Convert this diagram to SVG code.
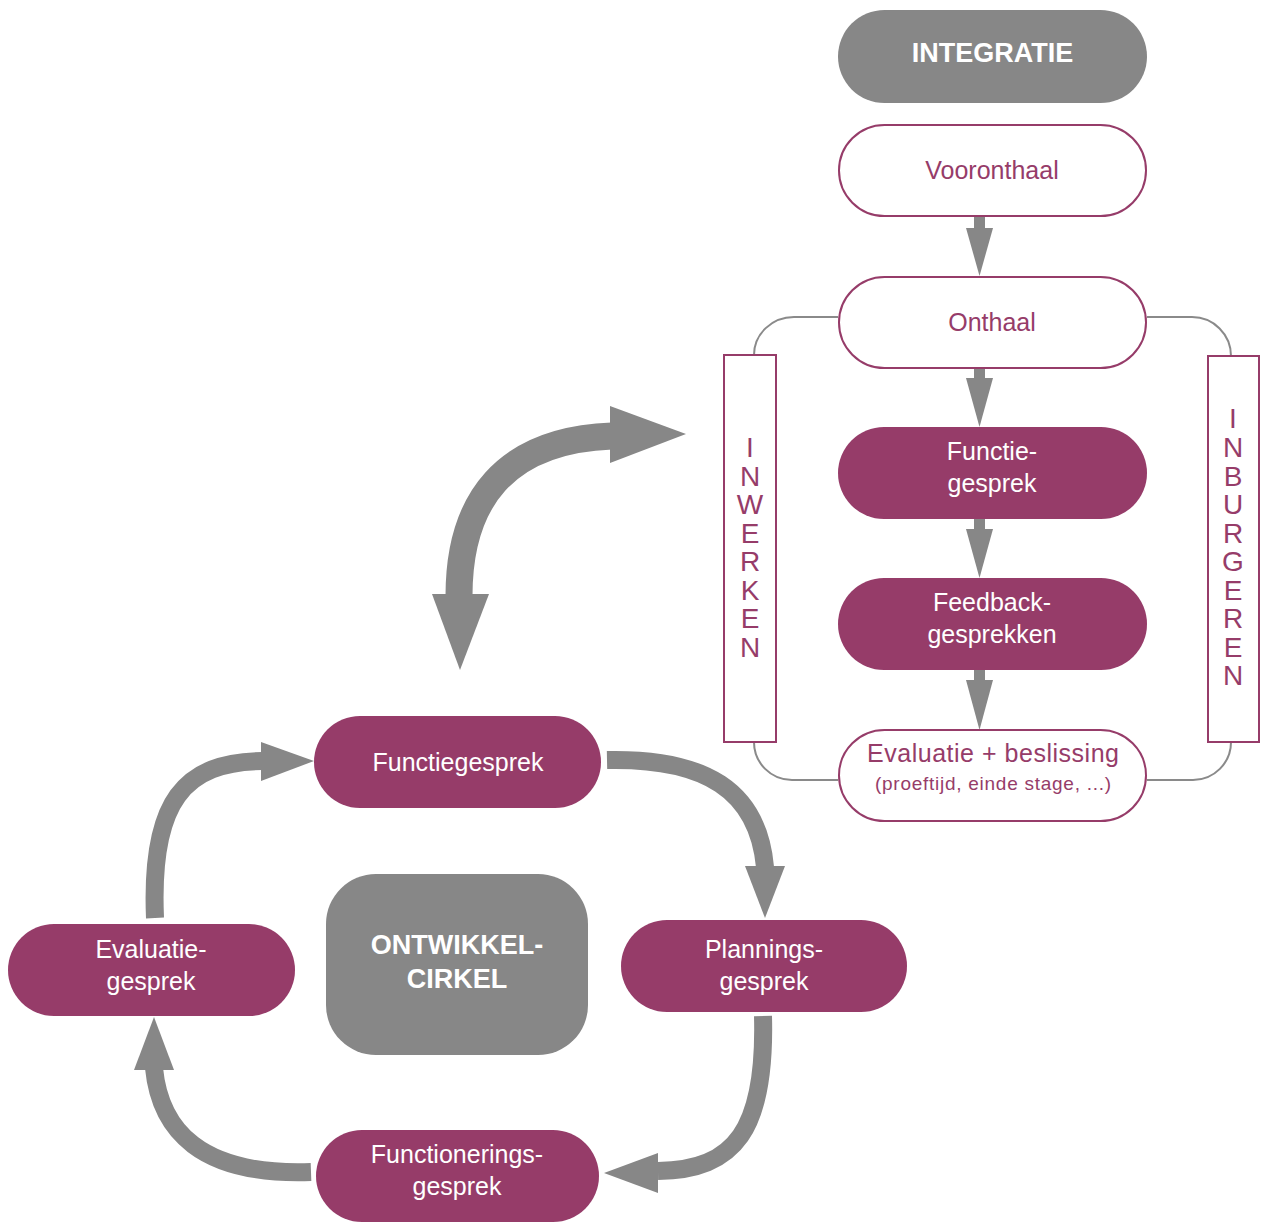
<svg xmlns="http://www.w3.org/2000/svg" width="1263" height="1229" viewBox="0 0 1263 1229">
<style>
.pf{fill:#963c69}
.po{fill:#ffffff;stroke:#963c69;stroke-width:2}
.gf{fill:#878787}
.tw{fill:#ffffff;font-family:"Liberation Sans",Arial,sans-serif;font-size:25px;text-anchor:middle}
.tp{fill:#963c69;font-family:"Liberation Sans",Arial,sans-serif;font-size:25px;text-anchor:middle}
.tb{fill:#ffffff;font-family:"Liberation Sans",Arial,sans-serif;font-size:27px;font-weight:bold;text-anchor:middle}
.tv{fill:#963c69;font-family:"Liberation Sans",Arial,sans-serif;font-size:28px;text-anchor:middle}
.br{fill:none;stroke:#8a8a8a;stroke-width:2}
.sh{fill:none;stroke:#878787}
.hd{fill:#878787}
</style>
<g id="connectors">
  <path class="br" d="M838,317 H794 A40,38 0 0 0 754,355"/>
  <path class="br" d="M754,742 A38,38 0 0 0 792,780 H838"/>
  <path class="br" d="M1147,317 H1192 A39,39 0 0 1 1231,356"/>
  <path class="br" d="M1231,742 A38,38 0 0 1 1193,780 H1147"/>
  <rect class="hd" x="974" y="215" width="11" height="15"/>
  <polygon class="hd" points="966,228 993,228 979.5,276"/>
  <rect class="hd" x="974" y="367" width="11" height="13"/>
  <polygon class="hd" points="966,378 993,378 979.5,427"/>
  <rect class="hd" x="974" y="518" width="11" height="13"/>
  <polygon class="hd" points="966,529 993,529 979.5,578"/>
  <rect class="hd" x="974" y="669" width="11" height="13"/>
  <polygon class="hd" points="966,680 993,680 979.5,730"/>
  <path class="sh" stroke-width="27" d="M459,596 C459,500 505,440 612,436"/>
  <polygon class="hd" points="432,594 489,594 460,670"/>
  <polygon class="hd" points="610,406 686,434 610,463"/>
  <path class="sh" stroke-width="18" d="M607,760 C705,758 758,790 765,867"/>
  <polygon class="hd" points="745,866 785,866 765,918"/>
  <path class="sh" stroke-width="18" d="M763,1016 C766,1130 735,1170 658,1171"/>
  <polygon class="hd" points="658,1153 658,1193 604,1173"/>
  <path class="sh" stroke-width="18" d="M311,1172 C200,1176 160,1130 154,1068"/>
  <polygon class="hd" points="134,1070 174,1070 154,1017"/>
  <path class="sh" stroke-width="18" d="M155,918 C150,800 185,762 262,761"/>
  <polygon class="hd" points="261,742 261,781 314,761"/>
</g>
<g id="integratie">
  <rect class="gf" x="838" y="10" width="309" height="93" rx="46.5"/>
  <text class="tb" x="992.5" y="62">INTEGRATIE</text>
</g>
<g id="vooronthaal">
  <rect class="po" x="839" y="125" width="307" height="91" rx="45.5"/>
  <text class="tp" x="992" y="179">Vooronthaal</text>
</g>
<g id="onthaal">
  <rect class="po" x="839" y="277" width="307" height="91" rx="45.5"/>
  <text class="tp" x="992" y="331">Onthaal</text>
</g>
<g id="functie-gesprek">
  <rect class="pf" x="838" y="427" width="309" height="92" rx="46"/>
  <text class="tw" x="992" y="460">Functie-</text>
  <text class="tw" x="992" y="492">gesprek</text>
</g>
<g id="feedback">
  <rect class="pf" x="838" y="578" width="309" height="92" rx="46"/>
  <text class="tw" x="992" y="611">Feedback-</text>
  <text class="tw" x="992" y="643">gesprekken</text>
</g>
<g id="evaluatie-beslissing">
  <rect class="po" x="839" y="730" width="307" height="91" rx="45.5"/>
  <text class="tp" x="993" y="762" textLength="252" lengthAdjust="spacing">Evaluatie + beslissing</text>
  <text class="tp" x="993" y="790" style="font-size:19px" textLength="236" lengthAdjust="spacing">(proeftijd, einde stage, ...)</text>
</g>
<g id="inwerken">
  <rect class="po" x="724" y="355" width="52" height="387"/>
  <text class="tv" x="750" y="457">I</text>
  <text class="tv" x="750" y="486">N</text>
  <text class="tv" x="750" y="514">W</text>
  <text class="tv" x="750" y="543">E</text>
  <text class="tv" x="750" y="571">R</text>
  <text class="tv" x="750" y="600">K</text>
  <text class="tv" x="750" y="628">E</text>
  <text class="tv" x="750" y="657">N</text>
</g>
<g id="inburgeren">
  <rect class="po" x="1208" y="356" width="51" height="386"/>
  <text class="tv" x="1233" y="428">I</text>
  <text class="tv" x="1233" y="457">N</text>
  <text class="tv" x="1233" y="486">B</text>
  <text class="tv" x="1233" y="514">U</text>
  <text class="tv" x="1233" y="543">R</text>
  <text class="tv" x="1233" y="571">G</text>
  <text class="tv" x="1233" y="600">E</text>
  <text class="tv" x="1233" y="628">R</text>
  <text class="tv" x="1233" y="657">E</text>
  <text class="tv" x="1233" y="685">N</text>
</g>
<g id="functiegesprek">
  <rect class="pf" x="314" y="716" width="287" height="92" rx="46"/>
  <text class="tw" x="458" y="771">Functiegesprek</text>
</g>
<g id="plannings-gesprek">
  <rect class="pf" x="621" y="920" width="286" height="92" rx="46"/>
  <text class="tw" x="764" y="958">Plannings-</text>
  <text class="tw" x="764" y="990">gesprek</text>
</g>
<g id="functionerings-gesprek">
  <rect class="pf" x="316" y="1130" width="283" height="92" rx="46"/>
  <text class="tw" x="457" y="1163">Functionerings-</text>
  <text class="tw" x="457" y="1195">gesprek</text>
</g>
<g id="evaluatie-gesprek">
  <rect class="pf" x="8" y="924" width="287" height="92" rx="46"/>
  <text class="tw" x="151" y="958">Evaluatie-</text>
  <text class="tw" x="151" y="990">gesprek</text>
</g>
<g id="ontwikkelcirkel">
  <rect class="gf" x="326" y="874" width="262" height="181" rx="50"/>
  <text class="tb" x="457" y="954">ONTWIKKEL-</text>
  <text class="tb" x="457" y="988">CIRKEL</text>
</g>
</svg>
